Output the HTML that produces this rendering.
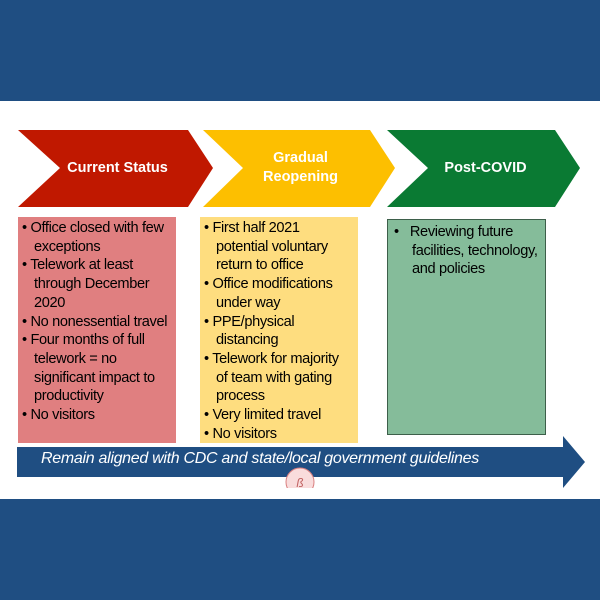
<!DOCTYPE html>
<html><head><style>
body{margin:0;width:600px;height:600px;background:#fff;position:relative;overflow:hidden;font-family:"Liberation Sans",sans-serif}
.band{position:absolute;left:0;width:600px;background:#1f4e82}
.box{position:absolute;font-size:14.6px;color:#000;letter-spacing:-0.35px}
.box div{position:absolute;white-space:nowrap;line-height:18.7px}
.h{position:absolute;color:#fff;font-weight:bold;font-size:14.5px;text-align:center;line-height:19px}
</style></head><body>
<div class="band" style="top:0;height:101px"></div>
<div class="band" style="top:499px;height:101px"></div>
<svg width="600" height="600" style="position:absolute;left:0;top:0">
<polygon points="18,130 188,130 213,168 188,207 18,207 60,168" fill="#c01800"/>
<polygon points="203,130 370,130 395,168 370,207 203,207 243,168" fill="#fdbf00"/>
<polygon points="387,130 555,130 580,168 555,207 387,207 428,168" fill="#0a7a33"/>
<rect x="18" y="217" width="158" height="226" fill="#e07f80"/>
<rect x="200" y="217" width="158" height="226" fill="#fedd7f"/>
<rect x="387.5" y="219.5" width="158" height="215" fill="#85bc9a" stroke="#3d5f4a" stroke-width="1"/>
<polygon points="17,447 563,447 563,436 585,462 563,488 563,477 17,477" fill="#1f4e82"/>
<circle cx="300" cy="482" r="14" fill="#f9dcdc" stroke="#d98080" stroke-width="1"/>
<text x="300" y="487" font-size="12" fill="#c06060" text-anchor="middle" font-style="italic">ß</text>
<rect x="0" y="488" width="600" height="11" fill="#fff"/>
</svg>
<div class="h" style="left:60px;top:159px;width:115px">Current Status</div>
<div class="h" style="left:243px;top:149px;width:115px">Gradual<br>Reopening</div>
<div class="h" style="left:428px;top:159px;width:115px">Post-COVID</div>
<div class="box" style="left:22px;top:219px">
<div style="top:0">• Office closed with few</div>
<div style="top:18.7px;left:12px">exceptions</div>
<div style="top:37.4px">• Telework at least</div>
<div style="top:56.1px;left:12px">through December</div>
<div style="top:74.8px;left:12px">2020</div>
<div style="top:93.5px">• No nonessential travel</div>
<div style="top:112.2px">• Four months of full</div>
<div style="top:130.9px;left:12px">telework = no</div>
<div style="top:149.6px;left:12px">significant impact to</div>
<div style="top:168.3px;left:12px">productivity</div>
<div style="top:187px">• No visitors</div>
</div>
<div class="box" style="left:204px;top:219px">
<div style="top:0">• First half 2021</div>
<div style="top:18.7px;left:12px">potential voluntary</div>
<div style="top:37.4px;left:12px">return to office</div>
<div style="top:56.1px">• Office modifications</div>
<div style="top:74.8px;left:12px">under way</div>
<div style="top:93.5px">• PPE/physical</div>
<div style="top:112.2px;left:12px">distancing</div>
<div style="top:130.9px">• Telework for majority</div>
<div style="top:149.6px;left:12px">of team with gating</div>
<div style="top:168.3px;left:12px">process</div>
<div style="top:187px">• Very limited travel</div>
<div style="top:205.7px">• No visitors</div>
</div>
<div class="box" style="left:394px;top:223px">
<div style="top:0">•&nbsp;&nbsp; Reviewing future</div>
<div style="top:18.7px;left:18px">facilities, technology,</div>
<div style="top:37.4px;left:18px">and policies</div>
</div>
<div style="position:absolute;left:41px;top:450px;color:#fff;font-style:italic;font-size:16px;white-space:nowrap;letter-spacing:-0.3px">Remain aligned with CDC and state/local government guidelines</div>
</body></html>
